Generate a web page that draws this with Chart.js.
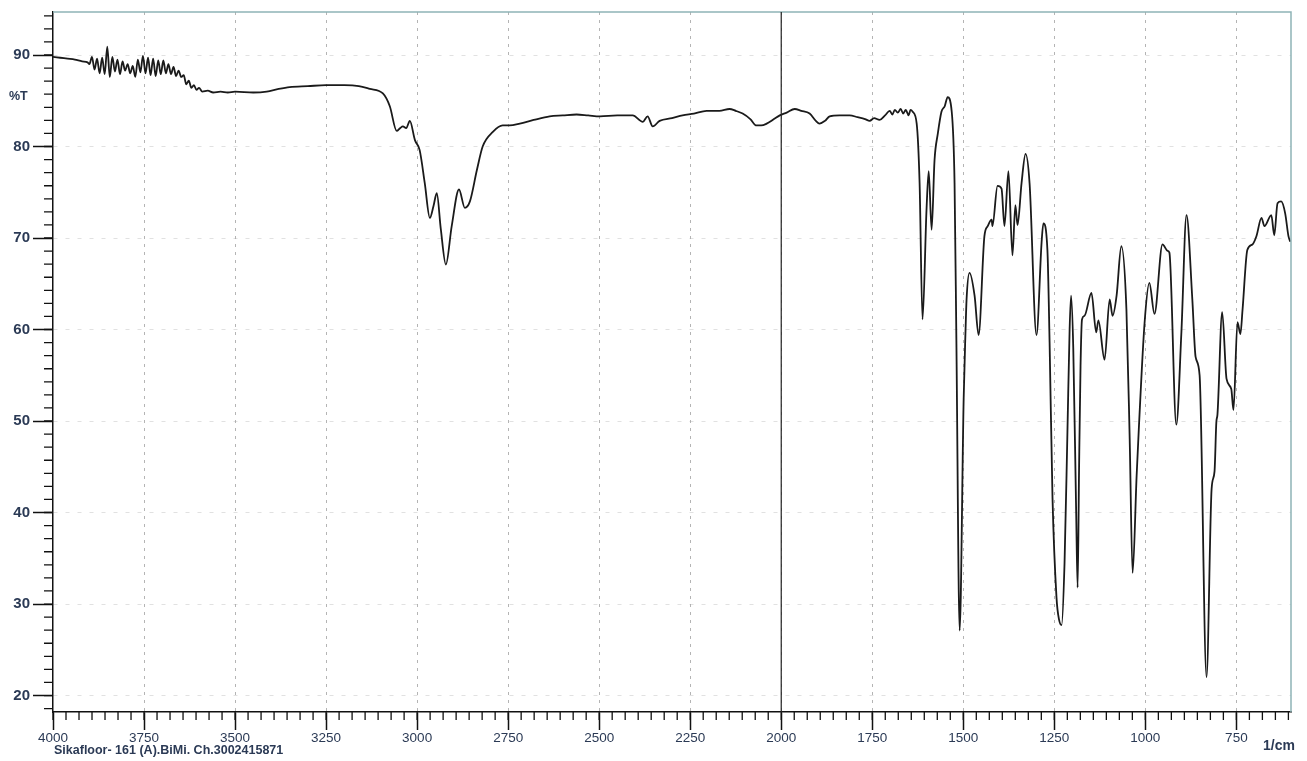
<!DOCTYPE html>
<html>
<head>
<meta charset="utf-8">
<script src="https://cdn.jsdelivr.net/npm/chart.js@4.4.1/dist/chart.umd.min.js"></script>
<style>
  html, body { margin: 0; padding: 0; background: #fff; }
  #wrap { position: relative; width: 1307px; height: 761px; }
  .lbl { position: absolute; font-family: "Liberation Sans", Arial, sans-serif; color: #2b3a55; font-weight: bold; white-space: nowrap; }
</style>
</head>
<body>
<div id="wrap">
  <canvas id="irChart"></canvas>
  <div class="lbl" style="left:9px; top:89px; font-size:12.5px;">%T</div>
  <div class="lbl" style="left:1263px; top:737px; font-size:14px;">1/cm</div>
  <div class="lbl" style="left:54px; top:743px; font-size:12.5px;">Sikafloor- 161 (A).BiMi. Ch.3002415871</div>
</div>
<script>
// wavenumber (1/cm) and transmittance (%T)
const wavenumbers = [
  4000, 3980, 3960, 3940, 3920, 3905, 3900, 3893, 3886, 3879, 3872, 3865, 3858, 3851, 3844, 3837,
  3830, 3823, 3816, 3809, 3802, 3795, 3788, 3781, 3774, 3767, 3760, 3753, 3746, 3739, 3732, 3725,
  3718, 3711, 3704, 3697, 3690, 3683, 3676, 3669, 3662, 3655, 3648, 3641, 3634, 3627, 3620, 3613,
  3606, 3599, 3590, 3575, 3560, 3540, 3520, 3500, 3450, 3413, 3380, 3350, 3300, 3250, 3200, 3160,
  3130, 3094, 3075, 3056, 3047, 3039, 3030, 3020, 3006, 2993, 2979, 2965, 2955, 2946, 2935, 2921,
  2905, 2885, 2869, 2855, 2836, 2820, 2792, 2765, 2746, 2718, 2680, 2636, 2600, 2562, 2530, 2498,
  2450, 2408, 2380, 2367, 2353, 2334, 2300, 2271, 2240, 2205, 2170, 2142, 2125, 2106, 2085, 2068,
  2055, 2040, 2020, 2004, 1985, 1963, 1945, 1922, 1905, 1895, 1880, 1867, 1840, 1812, 1790, 1770,
  1757, 1745, 1730, 1715, 1702, 1695, 1688, 1680, 1672, 1665, 1658, 1650, 1645, 1639, 1628, 1620,
  1612, 1601, 1595, 1587, 1579, 1570, 1560, 1551, 1543, 1532, 1524, 1519, 1510, 1499, 1494, 1491,
  1483, 1469, 1458, 1442, 1433, 1422, 1420, 1406, 1395, 1387, 1376, 1365, 1357, 1351, 1340, 1329,
  1318, 1299, 1285, 1280, 1269, 1263, 1255, 1244, 1237, 1230, 1222, 1214, 1208, 1204, 1198, 1190,
  1186, 1182, 1178, 1174, 1167, 1148, 1135, 1129, 1112, 1098, 1090, 1079, 1066, 1052, 1043, 1035,
  1024, 1018, 1002, 989, 975, 953, 939, 934, 915, 901, 887, 871, 862, 851, 832, 818,
  810, 805, 802, 789, 777, 764, 758, 747, 739, 733, 720, 706, 695, 681, 673, 654,
  646, 637, 627, 616, 607, 602
];
const transmittance = [
  89.8, 89.7, 89.6, 89.5, 89.3, 89.2, 89.0, 89.8, 88.4, 89.6, 88.0, 89.7, 87.9, 90.9, 87.6, 89.8,
  88.2, 89.5, 87.9, 89.3, 88.3, 89.0, 88.0, 88.8, 87.6, 89.5, 88.1, 89.9, 88.0, 89.7, 87.8, 89.6,
  87.7, 89.4, 87.9, 89.4, 88.0, 89.0, 87.9, 88.7, 87.7, 88.3, 87.6, 87.8, 86.8, 87.2, 86.4, 86.7,
  86.2, 86.4, 86.0, 86.1, 85.9, 86.0, 85.9, 86.0, 85.9, 86.0, 86.3, 86.5, 86.6, 86.7, 86.7, 86.6,
  86.3, 85.8, 84.4, 81.7, 82.0, 82.2, 82.0, 82.8, 80.7, 79.6, 76.0, 72.2, 73.5, 74.9, 71.0, 67.1,
  71.3, 75.3, 73.3, 74.0, 77.4, 80.0, 81.6, 82.3, 82.3, 82.5, 82.9, 83.3, 83.4, 83.5, 83.4, 83.3,
  83.4, 83.4, 82.7, 83.3, 82.2, 82.8, 83.1, 83.4, 83.6, 83.9, 83.9, 84.1, 83.9, 83.6, 83.0, 82.3,
  82.3, 82.5, 83.0, 83.4, 83.7, 84.1, 83.9, 83.6, 82.8, 82.5, 82.8, 83.3, 83.4, 83.4, 83.2, 83.0,
  82.8, 83.1, 82.9, 83.4, 83.9, 83.5, 84.0, 83.7, 84.1, 83.6, 84.0, 83.4, 84.0, 83.8, 82.5, 76.0,
  61.1, 73.1, 77.3, 70.9, 78.5, 81.4, 83.8, 84.4, 85.4, 83.9, 76.0, 58.9, 27.1, 52.4, 59.7, 63.3,
  66.2, 63.7, 59.4, 70.2, 71.3, 72.0, 71.3, 75.7, 75.4, 71.3, 77.3, 68.1, 73.6, 71.4, 76.0, 79.2,
  76.0, 59.4, 69.5, 71.6, 68.7, 58.6, 41.6, 30.7, 28.3, 27.7, 34.4, 48.8, 60.0, 63.7, 58.0, 40.0,
  31.8, 45.0, 56.0, 61.1, 61.5, 64.0, 59.7, 61.0, 56.7, 63.3, 61.5, 63.7, 69.1, 62.2, 48.0, 33.4,
  44.0, 49.1, 60.8, 65.1, 61.7, 69.3, 68.6, 68.4, 49.6, 59.7, 72.5, 63.3, 57.0, 55.0, 22.0, 42.6,
  44.5, 49.9, 50.7, 61.9, 54.6, 53.5, 51.2, 60.8, 59.5, 62.2, 68.7, 69.3, 70.2, 72.2, 71.3, 72.5,
  70.3, 73.8, 74.0, 72.7, 70.2, 69.6
];

const xTickValues = [4000, 3750, 3500, 3250, 3000, 2750, 2500, 2250, 2000, 1750, 1500, 1250, 1000, 750];
const yTickValues = [20, 30, 40, 50, 60, 70, 80, 90];
const xRange = [600, 4000];
const yRange = [18.2, 94.7];

const INK = '#2b3a55';

// minor ticks, frame and the 2000 split line
const frameAndTicks = {
    id: 'frameAndTicks',
    afterDraw(chart) {
        const { ctx, chartArea: a, scales: { x, y } } = chart;
        ctx.save();
        ctx.strokeStyle = '#8fb4b6';
        ctx.lineWidth = 1.5;
        ctx.beginPath();
        ctx.moveTo(a.left, a.top);
        ctx.lineTo(a.right, a.top);
        ctx.lineTo(a.right, a.bottom);
        ctx.stroke();

        ctx.strokeStyle = '#111';
        ctx.lineWidth = 1.3;
        ctx.beginPath();
        const xs = 250 / 7;
        for (let v = xRange[1]; v >= xRange[0]; v -= xs) {
            const px = x.getPixelForValue(v);
            ctx.moveTo(px, a.bottom);
            ctx.lineTo(px, a.bottom + 8);
        }
        const ys = 10 / 7;
        for (let v = 20; v <= yRange[1]; v += ys) {
            const py = y.getPixelForValue(v);
            ctx.moveTo(a.left - 9, py);
            ctx.lineTo(a.left, py);
        }
        for (let v = 20 - ys; v >= yRange[0]; v -= ys) {
            const py = y.getPixelForValue(v);
            ctx.moveTo(a.left - 9, py);
            ctx.lineTo(a.left, py);
        }
        ctx.stroke();

        const p2000 = x.getPixelForValue(2000);
        ctx.strokeStyle = '#222';
        ctx.lineWidth = 1.2;
        ctx.beginPath();
        ctx.moveTo(p2000, a.top);
        ctx.lineTo(p2000, a.bottom);
        ctx.stroke();
        ctx.restore();
    }
};

const points = wavenumbers.map((w, i) => ({ x: w, y: transmittance[i] }));

new Chart(document.getElementById('irChart'), {
    type: 'line',
    data: {
        datasets: [{
            data: points,
            borderColor: '#1a1a1a',
            borderWidth: 1.8,
            pointRadius: 0,
            fill: false,
            cubicInterpolationMode: 'monotone'
        }]
    },
    options: {
        responsive: true,
        maintainAspectRatio: false,
        animation: false,
        layout: { padding: { top: 8, right: 16, left: 0, bottom: 0 } },
        plugins: { legend: { display: false }, tooltip: { enabled: false } },
        scales: {
            x: {
                type: 'linear',
                reverse: true,
                min: xRange[0],
                max: xRange[1],
                afterBuildTicks: s => { s.ticks = xTickValues.map(v => ({ value: v })); },
                afterFit: s => { s.height = 49; },
                grid: {
                    color: c => (c.tick && c.tick.value === 4000) ? 'rgba(0,0,0,0)' : 'rgba(130,130,130,0.6)',
                    lineWidth: 1,
                    tickColor: '#111',
                    tickLength: 18,
                    tickWidth: 1.5
                },
                border: { color: '#111', width: 1.5, dash: [3, 5] },
                ticks: {
                    color: INK,
                    padding: 0,
                    maxRotation: 0,
                    font: { family: '"Liberation Sans", Arial, sans-serif', size: 13.5 },
                    callback: v => String(v)
                }
            },
            y: {
                type: 'linear',
                min: yRange[0],
                max: yRange[1],
                afterBuildTicks: s => { s.ticks = yTickValues.map(v => ({ value: v })); },
                afterFit: s => { s.width = 53; },
                grid: {
                    color: 'rgba(170,170,170,0.35)',
                    lineWidth: 1,
                    tickColor: '#111',
                    tickLength: 20,
                    tickWidth: 1.5
                },
                border: { color: '#111', width: 1.5, dash: [4, 8] },
                ticks: {
                    color: INK,
                    padding: 3,
                    font: { family: '"Liberation Sans", Arial, sans-serif', size: 15, weight: 'bold' },
                    callback: v => String(v)
                }
            }
        }
    },
    plugins: [frameAndTicks]
});
</script>
</body>
</html>
